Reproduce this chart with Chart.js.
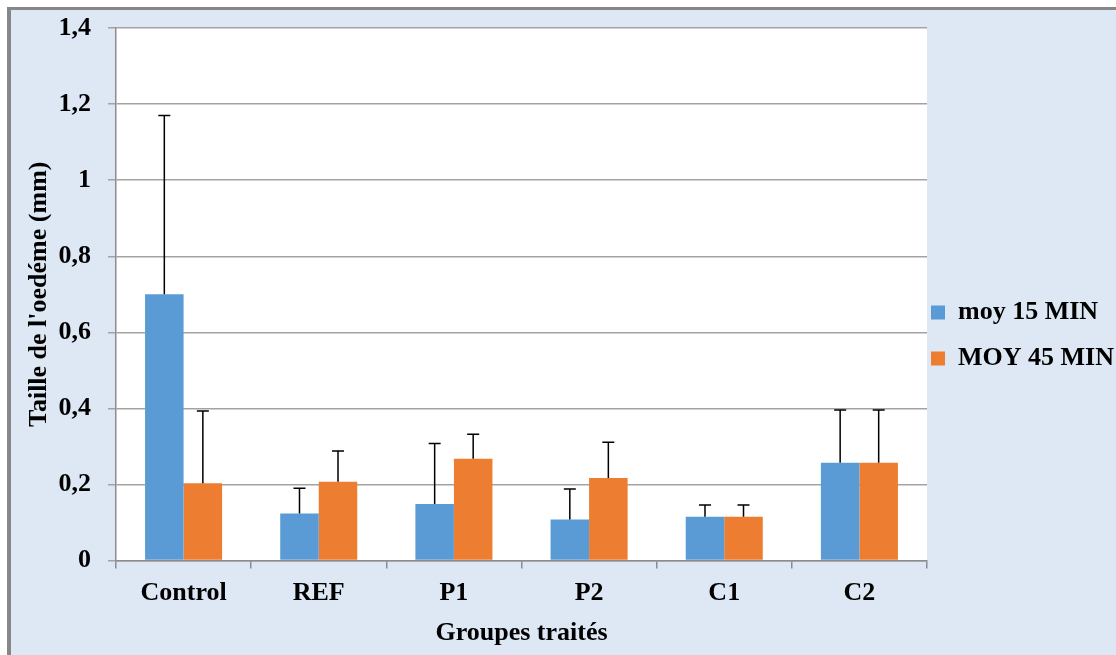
<!DOCTYPE html>
<html>
<head>
<meta charset="utf-8">
<script src="https://cdn.jsdelivr.net/npm/chart.js@4"></script>
<style>
  html, body { margin: 0; padding: 0; background: #ffffff; width: 1116px; height: 655px; overflow: hidden; }
  #frame { position: absolute; left: 7px; top: 7px; width: 1105px; height: 645px;
           border-left: 4px solid #878787; border-top: 3px solid #878787; background: #dde8f4; }
  #wrap { position: absolute; left: 0; top: 0; width: 1105px; height: 645px; }
</style>
</head>
<body>
<div id="frame"><div id="wrap"><canvas id="c"></canvas></div></div>
<script>
const categories = ['Control', 'REF', 'P1', 'P2', 'C1', 'C2'];
const moy15 = [0.70, 0.124, 0.149, 0.108, 0.115, 0.257];
const moy45 = [0.203, 0.207, 0.268, 0.217, 0.115, 0.257];
const err15 = [0.47, 0.066, 0.159, 0.080, 0.031, 0.139];
const err45 = [0.19, 0.081, 0.064, 0.094, 0.031, 0.139];
const seriesNames = ['moy 15 MIN', 'MOY 45 MIN'];
const yTicks = [0, 0.2, 0.4, 0.6, 0.8, 1, 1.2, 1.4];

const FONT = 'Liberation Serif, Times New Roman, serif';

const plotBackground = {
  id: 'plotBackground',
  beforeDraw(chart) {
    const a = chart.chartArea;
    const ctx = chart.ctx;
    ctx.save();
    ctx.fillStyle = '#ffffff';
    ctx.fillRect(a.left, a.top, a.right - a.left, a.bottom - a.top);
    ctx.restore();
  }
};

const legendFit = {
  id: 'legendFit',
  beforeUpdate(chart) {
    const lg = chart.legend;
    if (lg && !lg._patched) {
      const orig = lg.fit;
      lg.fit = function () { orig.call(this); this.width = 189; };
      lg._patched = true;
    }
  },
  afterLayout(chart) {
    const lg = chart.legend;
    if (lg) { lg.left -= 16; lg.top -= 10; }
  }
};

const errorBars = {
  id: 'errorBars',
  afterDatasetsDraw(chart) {
    const ctx = chart.ctx;
    const y = chart.scales.y;
    ctx.save();
    ctx.strokeStyle = '#000000';
    ctx.lineWidth = 1.5;
    chart.data.datasets.forEach((ds, di) => {
      const meta = chart.getDatasetMeta(di);
      meta.data.forEach((bar, i) => {
        const top = y.getPixelForValue(ds.data[i] + ds.errors[i]);
        ctx.beginPath();
        ctx.moveTo(bar.x, bar.y);
        ctx.lineTo(bar.x, top);
        ctx.moveTo(bar.x - 6, top);
        ctx.lineTo(bar.x + 6, top);
        ctx.stroke();
      });
    });
    ctx.restore();
  }
};

new Chart(document.getElementById('c'), {
  type: 'bar',
  data: {
    labels: categories,
    datasets: [
      { label: seriesNames[0], data: moy15, errors: err15, backgroundColor: '#5b9bd5', borderWidth: 0 },
      { label: seriesNames[1], data: moy45, errors: err45, backgroundColor: '#ed7d31', borderWidth: 0 }
    ]
  },
  options: {
    responsive: true,
    maintainAspectRatio: false,
    animation: false,
    categoryPercentage: 0.57,
    barPercentage: 1.0,
    layout: { padding: { left: 9, top: 18, right: 0, bottom: 2 } },
    plugins: {
      tooltip: { enabled: false },
      legend: {
        position: 'right',
        align: 'center',
        labels: {
          boxWidth: 14, boxHeight: 14, padding: 20, color: '#000',
          font: { family: FONT, size: 26, weight: 'bold' }
        }
      }
    },
    scales: {
      x: {
        grid: { display: true, drawOnChartArea: false, drawTicks: true, tickLength: 8, color: '#8c8c8c', lineWidth: 1.5 },
        border: { color: '#8c8c8c', width: 1.5 },
        ticks: { color: '#000', padding: 9, font: { family: FONT, size: 26, weight: 'bold' } },
        title: { display: true, text: 'Groupes traités', color: '#000', padding: { top: 0, bottom: 4 },
                 font: { family: FONT, size: 26, weight: 'bold' } }
      },
      y: {
        min: 0, max: 1.4,
        afterBuildTicks(axis) { axis.ticks = yTicks.map(v => ({ value: v })); },
        afterFit(axis) { axis.width = 96; axis.paddingTop = 0; axis.paddingBottom = 0; },
        grid: { color: '#a3a3a3', lineWidth: 1.5, tickLength: 8, drawTicks: true },
        border: { color: '#8c8c8c', width: 1.5 },
        ticks: {
          color: '#000', padding: 17,
          font: { family: FONT, size: 26, weight: 'bold' },
          callback: v => String(Number(v.toFixed(1))).replace('.', ',')
        },
        title: { display: true, text: "Taille de l'oedéme (mm)", color: '#000', padding: { top: 4, bottom: 4 },
                 font: { family: FONT, size: 26, weight: 'bold' } }
      }
    }
  },
  plugins: [plotBackground, legendFit, errorBars]
});
</script>
</body>
</html>
